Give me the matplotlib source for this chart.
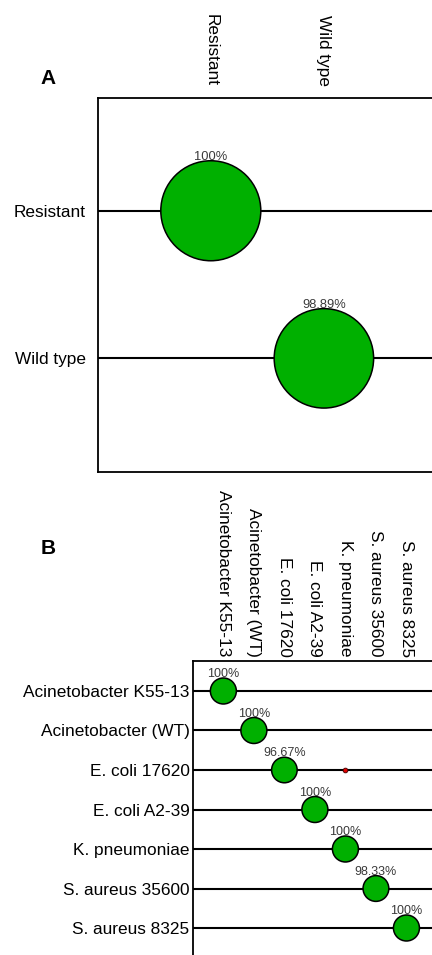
import matplotlib
matplotlib.use('Agg')
import matplotlib.pyplot as plt
import numpy as np

plt.rcParams['font.family'] = ['Liberation Sans', 'DejaVu Sans']

# === DATA ===
a_labels = ['Resistant', 'Wild type']
a_pct = [100, 98.89]

b_labels = ['Acinetobacter K55-13', 'Acinetobacter (WT)', 'E. coli 17620',
            'E. coli A2-39', 'K. pneumoniae', 'S. aureus 35600', 'S. aureus 8325']
b_pct = [100, 100, 96.67, 100, 100, 98.33, 100]

# off-diagonal (misclassified) share: row label, column label, percent
b_off_row = ['E. coli 17620']
b_off_col = ['K. pneumoniae']
b_off_pct = [3.33]

# === STYLE ===
green = '#00B000'
red = '#E00000'
pct_color = '#3a3a3a'

fig = plt.figure(figsize=(4.32, 9.55), dpi=100)


def bubble_panel(ax, labels, pct, s100, lab_pad, lab_size, pct_size,
                 off_row=(), off_col=(), off_pct=()):
    n = len(labels)
    idx = np.arange(n)
    # row lines
    for i in idx:
        ax.axhline(i, color='black', lw=1.5, zorder=1)
    sizes = np.array(pct) / 100.0 * s100
    ax.scatter(idx, idx, s=sizes, c=green, edgecolors='black',
               linewidths=1.1, zorder=3)
    for i, v in enumerate(pct):
        r = np.sqrt(sizes[i]) / 2
        ax.annotate(f'{v:g}%', xy=(i, i), xytext=(0, r - 1.5),
                    textcoords='offset points', ha='center', va='bottom',
                    fontsize=pct_size, color=pct_color, zorder=4)
    for r_lab, c_lab, v in zip(off_row, off_col, off_pct):
        ax.scatter([labels.index(c_lab)], [labels.index(r_lab)],
                   s=v / 100.0 * s100, c=red, edgecolors='#400000',
                   linewidths=0.6, zorder=3)
    ax.set_xticks(idx)
    ax.set_yticks(idx)
    ax.set_xticklabels(labels, rotation=270, fontsize=lab_size)
    ax.set_yticklabels(labels, fontsize=lab_size)
    ax.xaxis.tick_top()
    ax.tick_params(axis='both', length=0, pad=lab_pad)
    for sp in ax.spines.values():
        sp.set_linewidth(1.3)


# panel A
axA = fig.add_axes([97.7 / 432, 1 - 471.7 / 955, (437 - 97.7) / 432, 374 / 955])
bubble_panel(axA, a_labels, a_pct, s100=5184, lab_pad=8.5,
             lab_size=12.4, pct_size=9.3)
axA.set_xlim(0 - 1, 3 - 1)
axA.set_ylim(1.768, -0.766)

# panel B
axB = fig.add_axes([193.3 / 432, 1 - 958.3 / 955, (436.5 - 193.3) / 432, 297.6 / 955])
bubble_panel(axB, b_labels, b_pct, s100=350, lab_pad=2.8,
             lab_size=12.4, pct_size=9.0,
             off_row=b_off_row, off_col=b_off_col, off_pct=b_off_pct)
axB.set_xlim(-0.985, 6.985)
axB.set_ylim(6.767, -0.767)

fig.text(48 / 432, 1 - 78 / 955, 'A', fontsize=15, fontweight='bold',
         ha='center', va='center')
fig.text(48 / 432, 1 - 548 / 955, 'B', fontsize=15, fontweight='bold',
         ha='center', va='center')

fig.savefig('out.png', dpi=100)
